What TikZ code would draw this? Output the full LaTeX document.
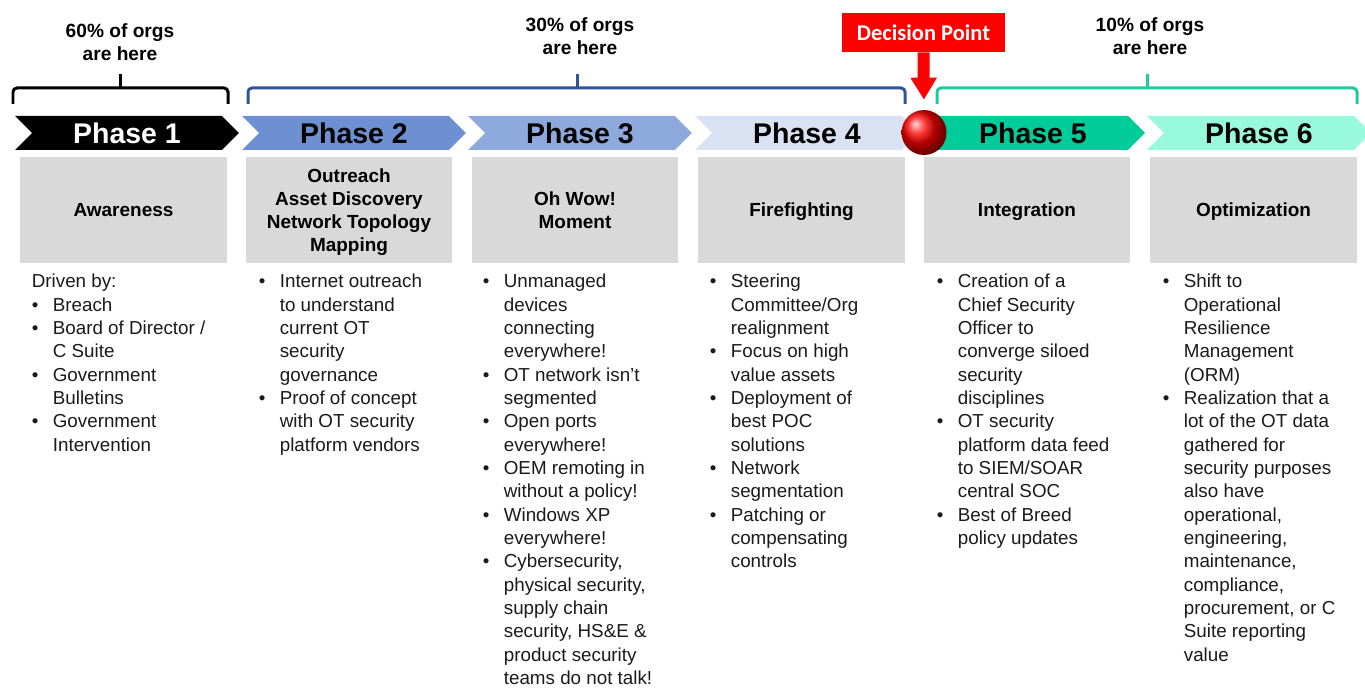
\documentclass[tikz,border=0pt]{standalone}
\usepackage{fontspec}
\setmainfont{Liberation Sans}
\newfontfamily\calfont{Carlito}
\usetikzlibrary{shapes.symbols,arrows.meta}

\definecolor{phtwo}{HTML}{6C90D1}
\definecolor{phthree}{HTML}{8EA9DB}
\definecolor{phfour}{HTML}{D9E2F3}
\definecolor{phfive}{HTML}{00CC99}
\definecolor{phsix}{HTML}{99F9DC}
\definecolor{brblue}{HTML}{2F5597}
\definecolor{brgreen}{HTML}{1FCB9B}
\definecolor{boxgray}{HTML}{D9D9D9}
\definecolor{txtgray}{HTML}{1A1A1A}

\newcommand{\bul}{\makebox[0.42cm][l]{\textbullet}}
\newcommand{\ind}{\hspace*{0.42cm}}

\tikzset{
  phase/.style={shape=signal, signal to=east, signal from=west, signal pointer angle=90,
    minimum width=4.48cm, minimum height=0.68cm, inner sep=0pt,
    font=\fontsize{16.2}{19}\selectfont\bfseries},
  graybox/.style={fill=boxgray, minimum width=4.14cm, minimum height=2.12cm, inner sep=0pt,
    text depth=0pt, align=center, font=\fontsize{10.8}{13.2}\selectfont\bfseries},
  blist/.style={anchor=north west, inner sep=0pt, align=left, text=txtgray,
    font=\fontsize{10.7}{13.27}\selectfont},
  share/.style={align=center, font=\fontsize{10.9}{13}\selectfont\bfseries},
  brak/.style={line width=0.06cm, rounded corners=0.08cm},
}

\begin{document}
\begin{tikzpicture}[x=0.02cm, y=-0.02cm]
    \useasboundingbox (0,0) rectangle (1365,688);

    % share of orgs
    \node[share] (share1) at (120,42.5) {60\% of orgs\\are here};
    \node[share] (share2) at (580,36.5) {30\% of orgs\\are here};
    \node[share] (share3) at (1150,36) {10\% of orgs\\are here};

    % brackets
    \draw[brak] (13,104) -- (13,88) -- (228,88) -- (228,104);
    \draw[brak] (120,88) -- (120,74);
    \draw[brak, brblue] (248,104) -- (248,88) -- (905,88) -- (905,104);
    \draw[brak, brblue] (577,88) -- (577,74);
    \draw[brak, brgreen] (937,104) -- (937,88) -- (1357,88) -- (1357,104);
    \draw[brak, brgreen] (1147,88) -- (1147,74);

    % phase arrows
    \node[phase, fill=black, text=white] (p1) at (127,133) {Phase 1};
    \node[phase, fill=phtwo] (p2) at (354,133) {Phase 2};
    \node[phase, fill=phthree] (p3) at (580,133) {Phase 3};
    \node[phase, fill=phfour] (p4) at (807,133) {Phase 4};
    \node[phase, fill=phfive] (p5) at (1033,133) {Phase 5};
    \node[phase, fill=phsix] (p6) at (1259,133) {Phase 6};

    % decision point
    \node[fill=red, text=white, minimum width=3.26cm, minimum height=0.78cm, inner sep=0pt,
      font=\calfont\fontsize{12.8}{15}\selectfont\bfseries] (decision) at (923.5,32.5) {Decision Point};
    \node[circle, shading=ball, ball color=red, minimum size=0.9cm, inner sep=0pt] (ball) at (924,132.5) {};
    \draw[red, line width=0.24cm, -{Triangle[length=0.44cm, width=0.5cm]}, shorten >=0.2cm]
      (decision.south) -- (ball.north);

    % gray title boxes
    \node[graybox] (box1) at (123.5,210) {Awareness};
    \node[graybox] (box2) at (349,210) {Outreach\\Asset Discovery\\Network Topology\\Mapping};
    \node[graybox] (box3) at (575,210) {Oh Wow!\\Moment};
    \node[graybox] (box4) at (801.5,210) {Firefighting};
    \node[graybox] (box5) at (1027,210) {Integration};
    \node[graybox] (box6) at (1253.5,210) {Optimization};

    % bullet lists
    \node[blist] (list1) at (31.5,274) {Driven by:\\
      \bul Breach\\
      \bul Board of Director /\\ \ind C Suite\\
      \bul Government\\ \ind Bulletins\\
      \bul Government\\ \ind Intervention};
    \node[blist] (list2) at (258.5,274) {\bul Internet outreach\\ \ind to understand\\
      \ind current OT\\ \ind security\\ \ind governance\\
      \bul Proof of concept\\ \ind with OT security\\ \ind platform vendors};
    \node[blist] (list3) at (482.5,274) {\bul Unmanaged\\ \ind devices\\ \ind connecting\\ \ind everywhere!\\
      \bul OT network isn’t\\ \ind segmented\\
      \bul Open ports\\ \ind everywhere!\\
      \bul OEM remoting in\\ \ind without a policy!\\
      \bul Windows XP\\ \ind everywhere!\\
      \bul Cybersecurity,\\ \ind physical security,\\ \ind supply chain\\
      \ind security, HS\&E \&\\ \ind product security\\ \ind teams do not talk!};
    \node[blist] (list4) at (709.5,274) {\bul Steering\\ \ind Committee/Org\\ \ind realignment\\
      \bul Focus on high\\ \ind value assets\\
      \bul Deployment of\\ \ind best POC\\ \ind solutions\\
      \bul Network\\ \ind segmentation\\
      \bul Patching or\\ \ind compensating\\ \ind controls};
    \node[blist] (list5) at (936.5,274) {\bul Creation of a\\ \ind Chief Security\\ \ind Officer to\\
      \ind converge siloed\\ \ind security\\ \ind disciplines\\
      \bul OT security\\ \ind platform data feed\\ \ind to SIEM/SOAR\\ \ind central SOC\\
      \bul Best of Breed\\ \ind policy updates};
    \node[blist] (list6) at (1162.5,274) {\bul Shift to\\ \ind Operational\\ \ind Resilience\\
      \ind Management\\ \ind (ORM)\\
      \bul Realization that a\\ \ind lot of the OT data\\ \ind gathered for\\
      \ind security purposes\\ \ind also have\\ \ind operational,\\ \ind engineering,\\
      \ind maintenance,\\ \ind compliance,\\ \ind procurement, or C\\
      \ind Suite reporting\\ \ind value};
\end{tikzpicture}
\end{document}
